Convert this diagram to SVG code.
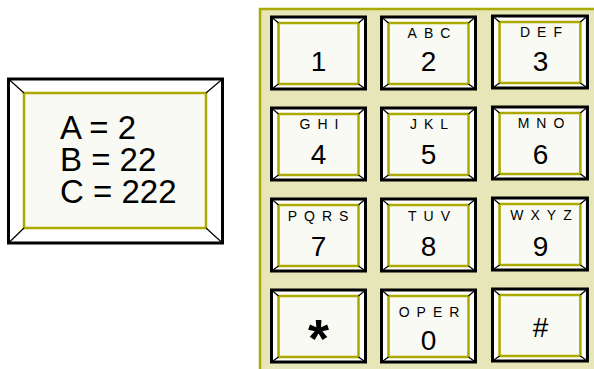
<svg xmlns="http://www.w3.org/2000/svg" width="594" height="369" viewBox="0 0 594 369">
<style>
.outer{fill:#ffffff;stroke:#000000;stroke-width:3}
.inner{fill:#fafaf4;stroke:#aaaa00;stroke-width:2.5}
.diag{stroke:#000000;stroke-width:1.2}
.dig{font-family:"Liberation Sans",Arial,sans-serif;font-size:28px;fill:#000;text-anchor:middle}
.let{font-family:"Liberation Sans",Arial,sans-serif;font-size:14px;fill:#000;letter-spacing:7px;text-anchor:middle}
.big{font-family:"Liberation Sans",Arial,sans-serif;font-size:33px;fill:#000}
</style>
<rect width="594" height="369" fill="#ffffff"/>
<g id="display">
<rect class="outer" x="8.5" y="79" width="214" height="164"/>
<rect class="inner" x="24" y="93" width="182" height="135"/>
<path class="diag" d="M8.5 79L24 93M222.5 79L206 93M8.5 243L24 228M222.5 243L206 228"/>
<text class="big"><tspan x="60" y="139">A = 2</tspan><tspan x="60" y="171">B = 22</tspan><tspan x="60" y="203">C = 222</tspan></text>
</g>
<g id="keypad">
<rect x="260" y="9" width="340" height="370" fill="#e6e6b8" stroke="#aaaa00" stroke-width="2.5"/>
</g>
<defs>
<g id="key">
<rect class="outer" x="0" y="0" width="94" height="72"/>
<rect class="inner" x="7" y="6" width="80" height="61"/>
<path class="diag" d="M0 0L7 6M94 0L87 6M0 72L7 67M94 72L87 67"/>
</g>
</defs>
<g id="key1" transform="translate(271.5,17)"><use href="#key"/><text class="dig" x="47" y="54">1</text></g>
<g id="key2" transform="translate(381.5,17)"><use href="#key"/><text class="let" x="51" y="21">ABC</text><text class="dig" x="47" y="54">2</text></g>
<g id="key3" transform="translate(492.5,16)"><use href="#key" transform="scale(1.01,1)"/><text class="let" x="52" y="21">DEF</text><text class="dig" x="48" y="55">3</text></g>
<g id="key4" transform="translate(271.5,108)"><use href="#key"/><text class="let" x="51" y="21">GHI</text><text class="dig" x="47" y="56">4</text></g>
<g id="key5" transform="translate(381.5,108)"><use href="#key"/><text class="let" x="51" y="21">JKL</text><text class="dig" x="47" y="56">5</text></g>
<g id="key6" transform="translate(492.5,107)"><use href="#key" transform="scale(1.01,1)"/><text class="let" x="52" y="21">MNO</text><text class="dig" x="48" y="57">6</text></g>
<g id="key7" transform="translate(271.5,199)"><use href="#key"/><text class="let" x="50" y="22">PQRS</text><text class="dig" x="47" y="57">7</text></g>
<g id="key8" transform="translate(381.5,199)"><use href="#key"/><text class="let" x="51" y="22">TUV</text><text class="dig" x="47" y="57">8</text></g>
<g id="key9" transform="translate(492.5,198)"><use href="#key" transform="scale(1.01,1)"/><text class="let" x="52" y="22">WXYZ</text><text class="dig" x="48" y="58">9</text></g>
<g id="keystar" transform="translate(271.5,290)"><use href="#key"/><text x="47" y="67" font-family="Liberation Sans,Arial,sans-serif" font-size="54" font-weight="bold" text-anchor="middle">*</text></g>
<g id="key0" transform="translate(381.5,290)"><use href="#key"/><text class="let" x="51" y="27">OPER</text><text class="dig" x="47" y="60">0</text></g>
<g id="keyhash" transform="translate(492.5,289)"><use href="#key" transform="scale(1.01,1)"/><text class="dig" x="48" y="48">#</text></g>
</svg>
